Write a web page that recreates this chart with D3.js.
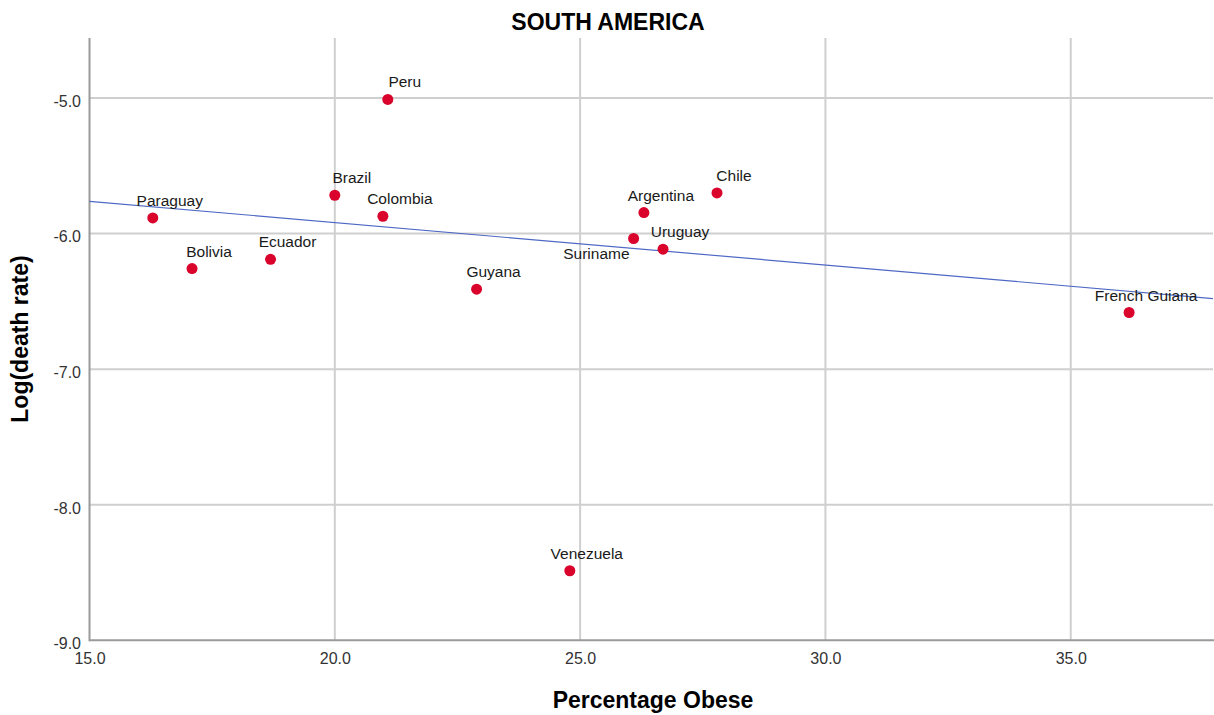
<!DOCTYPE html>
<html>
<head>
<meta charset="utf-8">
<script src="https://cdn.jsdelivr.net/npm/d3@7"></script>
<style>
  html, body { margin: 0; padding: 0; background: #fff; }
  svg { display: block; font-family: "Liberation Sans", Arial, sans-serif; }
</style>
</head>
<body>
<svg id="chart" width="1214" height="715"></svg>
<script>
// Country-level obesity vs. log death rate
const countries = ["Peru", "Brazil", "Colombia", "Paraguay", "Bolivia", "Ecuador", "Guyana",
                   "Argentina", "Chile", "Suriname", "Uruguay", "French Guiana", "Venezuela"];
const pctObese  = [21.08, 20.0, 20.98, 16.29, 17.09, 18.69, 22.89,
                   26.30, 27.79, 26.09, 26.69, 36.19, 24.79];
const logDeath  = [-5.01, -5.717, -5.872, -5.884, -6.258, -6.19, -6.41,
                   -5.845, -5.70, -6.036, -6.115, -6.582, -8.487];

// Fit line endpoints (x, y)
const fitX = [15.0, 37.9];
const fitY = [-5.762, -6.479];

const xTicks = [15, 20, 25, 30, 35];
const yTicks = [-5, -6, -7, -8, -9];

const svg = d3.select("#chart");
const plotL = 89.5, plotR = 1213, plotT = 38, plotB = 640.3;

const x = d3.scaleLinear().domain([15, 37.9]).range([plotL, plotR]);
const y = d3.scaleLinear().domain([-9, -4.557]).range([plotB, plotT]);

const fmt = d => d.toFixed(1);

// Grid lines
svg.append("g").selectAll("line").data(xTicks.slice(1)).join("line")
  .attr("x1", d => x(d)).attr("x2", d => x(d))
  .attr("y1", plotT).attr("y2", plotB)
  .attr("stroke", "#cfcfcf").attr("stroke-width", 2);
svg.append("g").selectAll("line").data(yTicks.slice(0, -1)).join("line")
  .attr("x1", plotL).attr("x2", plotR)
  .attr("y1", d => y(d)).attr("y2", d => y(d))
  .attr("stroke", "#cfcfcf").attr("stroke-width", 2);

// Axes
const xAxis = svg.append("g").attr("transform", `translate(0,${plotB})`)
  .call(d3.axisBottom(x).tickValues(xTicks).tickFormat(fmt).tickSize(0).tickPadding(12));
const yAxis = svg.append("g").attr("transform", `translate(${plotL},0)`)
  .call(d3.axisLeft(y).tickValues(yTicks).tickFormat(fmt).tickSize(0).tickPadding(8.5));
[xAxis, yAxis].forEach(a => {
  a.select(".domain").remove();
  a.selectAll("text").attr("font-size", 16).attr("fill", "#333")
    .attr("font-family", "'Liberation Sans', Arial, sans-serif");
});
yAxis.selectAll(".tick text").attr("dy", "0.52em");

svg.append("line").attr("x1", plotL).attr("x2", plotL).attr("y1", plotT).attr("y2", plotB + 1)
  .attr("stroke", "#9a9a9a").attr("stroke-width", 2);
svg.append("line").attr("x1", plotL).attr("x2", plotR + 1).attr("y1", plotB).attr("y2", plotB)
  .attr("stroke", "#9a9a9a").attr("stroke-width", 2);

// Fit line
svg.append("line")
  .attr("x1", x(fitX[0])).attr("y1", y(fitY[0]))
  .attr("x2", x(fitX[1])).attr("y2", y(fitY[1]))
  .attr("stroke", "#4e68c4").attr("stroke-width", 1.2);

const pts = countries.map((c, i) => ({ name: c, x: pctObese[i], y: logDeath[i] }));

// Points
svg.append("g").selectAll("circle").data(pts).join("circle")
  .attr("cx", d => x(d.x)).attr("cy", d => y(d.y)).attr("r", 5.5)
  .attr("fill", "#d9032c");

// Point labels
const belowLeft = new Set(["Suriname"]);
svg.append("g").selectAll("text").data(pts).join("text")
  .attr("x", d => belowLeft.has(d.name) ? x(d.x) - 4 : x(d.x) + 17)
  .attr("y", d => belowLeft.has(d.name) ? y(d.y) + 21 : y(d.y) - 12)
  .attr("text-anchor", d => belowLeft.has(d.name) ? "end" : "middle")
  .attr("font-size", 15.5).attr("fill", "#1a1a1a")
  .text(d => d.name);

// Titles
svg.append("text").attr("x", 608).attr("y", 30).attr("text-anchor", "middle")
  .attr("font-size", 23).attr("font-weight", "bold").attr("fill", "#000").text("SOUTH AMERICA");
svg.append("text").attr("x", 653).attr("y", 708).attr("text-anchor", "middle")
  .attr("font-size", 23).attr("font-weight", "bold").attr("fill", "#000").text("Percentage Obese");
svg.append("text").attr("transform", "translate(28,339) rotate(-90)").attr("text-anchor", "middle")
  .attr("font-size", 23).attr("font-weight", "bold").attr("fill", "#000").text("Log(death rate)");
</script>
</body>
</html>
